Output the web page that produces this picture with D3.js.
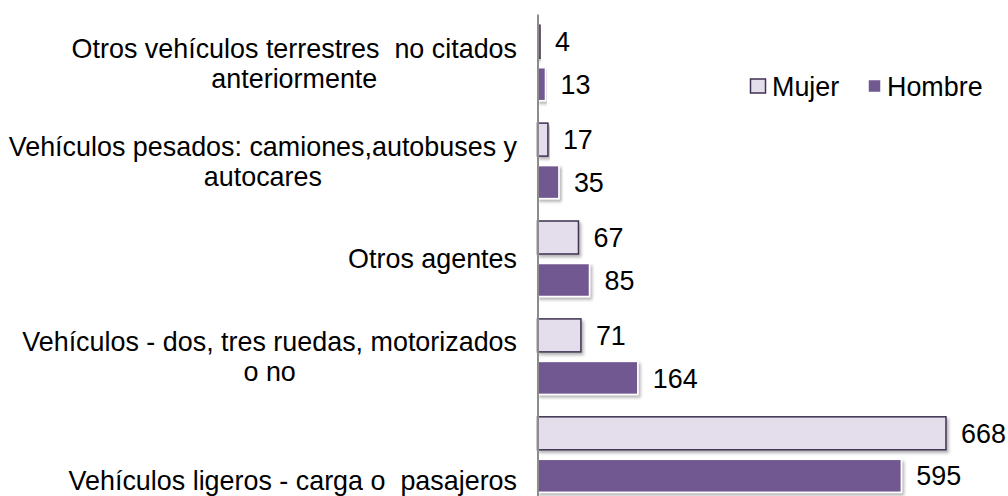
<!DOCTYPE html>
<html>
<head>
<meta charset="utf-8">
<script src="https://cdn.jsdelivr.net/npm/d3@7"></script>
<style>
	body { margin: 0; background: #fff; }
	text { font-family: "Liberation Sans", Arial, sans-serif; fill: #000; white-space: pre; }
</style>
</head>
<body>
<div id="chartDiv"></div>
<script>
;(function() {

	var width = 1008;
	var height = 496;

	// categories top to bottom, split where the original wraps
	var categories = [
		"Otros vehículos terrestres  no citados anteriormente",
		"Vehículos pesados: camiones,autobuses y autocares",
		"Otros agentes",
		"Vehículos - dos, tres ruedas, motorizados o no",
		"Vehículos ligeros - carga o  pasajeros"
	];
	var categoryLines = [
		["Otros vehículos terrestres  no citados", "anteriormente"],
		["Vehículos pesados: camiones,autobuses y", "autocares"],
		["Otros agentes"],
		["Vehículos - dos, tres ruedas, motorizados", "o no"],
		["Vehículos ligeros - carga o  pasajeros"]
	];
	var seriesNames = ["Mujer", "Hombre"];
	var mujer = [4, 17, 67, 71, 668];
	var hombre = [13, 35, 85, 164, 595];

	var fontSize = 26.9;
	var axisX = 537.5;
	var labelRight = 517;

	var chart = d3.select("#chartDiv").append("svg")
		.attr("width", width)
		.attr("height", height);

	var defs = chart.append("defs");
	defs.append("filter")
		.attr("id", "shadow")
		.attr("x", "-5%").attr("y", "-20%")
		.attr("width", "120%").attr("height", "160%")
		.append("feDropShadow")
		.attr("dx", 2).attr("dy", 2.5)
		.attr("stdDeviation", 1.5)
		.attr("flood-color", "#000")
		.attr("flood-opacity", 0.3);

	var xScale = d3.scaleLinear()
		.domain([0, 800])
		.range([axisX, axisX + 489.2]);

	var yScale = d3.scaleBand()
		.domain(categories)
		.range([14, 503.5])
		.paddingInner(0.229)
		.paddingOuter(0.1145);

	var seriesScale = d3.scaleBand()
		.domain(seriesNames)
		.range([0, yScale.bandwidth()])
		.paddingInner(0.224);

	var table = categories.map(function(c, i) {
		return { cat: c, lines: categoryLines[i], values: [
			{ name: "Mujer", value: mujer[i] },
			{ name: "Hombre", value: hombre[i] }
		]};
	});

	var fills = { Mujer: "#E4DEEC", Hombre: "#725891" };
	var strokes = { Mujer: "#3F3151", Hombre: "#ffffff" };

	// bars
	var groups = chart.append("g").selectAll("g")
		.data(table)
		.enter().append("g")
		.attr("transform", function(d) { return "translate(0," + yScale(d.cat) + ")"; });

	groups.selectAll("rect")
		.data(function(d) { return d.values; })
		.enter().append("rect")
		.attr("x", xScale(0))
		.attr("y", function(d) { return seriesScale(d.name); })
		.attr("width", function(d) { return xScale(d.value) - xScale(0); })
		.attr("height", seriesScale.bandwidth())
		.attr("fill", function(d) { return fills[d.name]; })
		.attr("stroke", function(d) { return strokes[d.name]; })
		.attr("stroke-width", 1.5)
		.attr("filter", "url(#shadow)");

	// value labels
	groups.selectAll(".val")
		.data(function(d) { return d.values; })
		.enter().append("text")
		.attr("class", "val")
		.attr("x", function(d) { return xScale(d.value) + 15; })
		.attr("y", function(d) { return seriesScale(d.name) + seriesScale.bandwidth() / 2; })
		.attr("dy", "0.36em")
		.style("font-size", fontSize + "px")
		.text(function(d) { return d.value; });

	// vertical axis line
	var yAxis = d3.axisLeft(yScale).tickSize(0).tickSizeOuter(0).tickFormat("");
	var axisG = chart.append("g")
		.attr("transform", "translate(" + axisX + ",0)")
		.call(yAxis);
	axisG.select(".domain")
		.attr("stroke", "#8C8C8C")
		.attr("stroke-width", 2);

	// category labels, wrapped lines centred within a right-aligned block
	var lineHeight = 30;
	table.forEach(function(d, i) {
		var cy = yScale(d.cat) + yScale.bandwidth() / 2;
		if (i === table.length - 1) cy += 26;
		var t = chart.append("text")
			.style("font-size", fontSize + "px")
			.attr("text-anchor", "middle");
		var n = d.lines.length;
		var spans = d.lines.map(function(line, j) {
			return t.append("tspan")
				.attr("y", cy + (j - (n - 1) / 2) * lineHeight)
				.attr("dy", "0.36em")
				.text(line);
		});
		var maxW = d3.max(spans, function(s) { return s.node().getComputedTextLength(); });
		spans.forEach(function(s) { s.attr("x", labelRight - maxW / 2); });
	});

	// legend
	var legend = chart.append("g").attr("transform", "translate(750,86)");
	var legendX = { Mujer: 0, Hombre: 118 };
	seriesNames.forEach(function(name) {
		var g = legend.append("g").attr("transform", "translate(" + legendX[name] + ",0)");
		g.append("rect")
			.attr("x", name === "Mujer" ? 0.5 : 0)
			.attr("y", name === "Mujer" ? -7 : -6.5)
			.attr("width", name === "Mujer" ? 15 : 13)
			.attr("height", name === "Mujer" ? 14 : 13)
			.attr("fill", fills[name])
			.attr("stroke", strokes[name])
			.attr("stroke-width", 1.5);
		g.append("text")
			.attr("x", name === "Mujer" ? 22 : 19)
			.attr("dy", "0.36em")
			.style("font-size", fontSize + "px")
			.text(name);
	});

})();
</script>
</body>
</html>
